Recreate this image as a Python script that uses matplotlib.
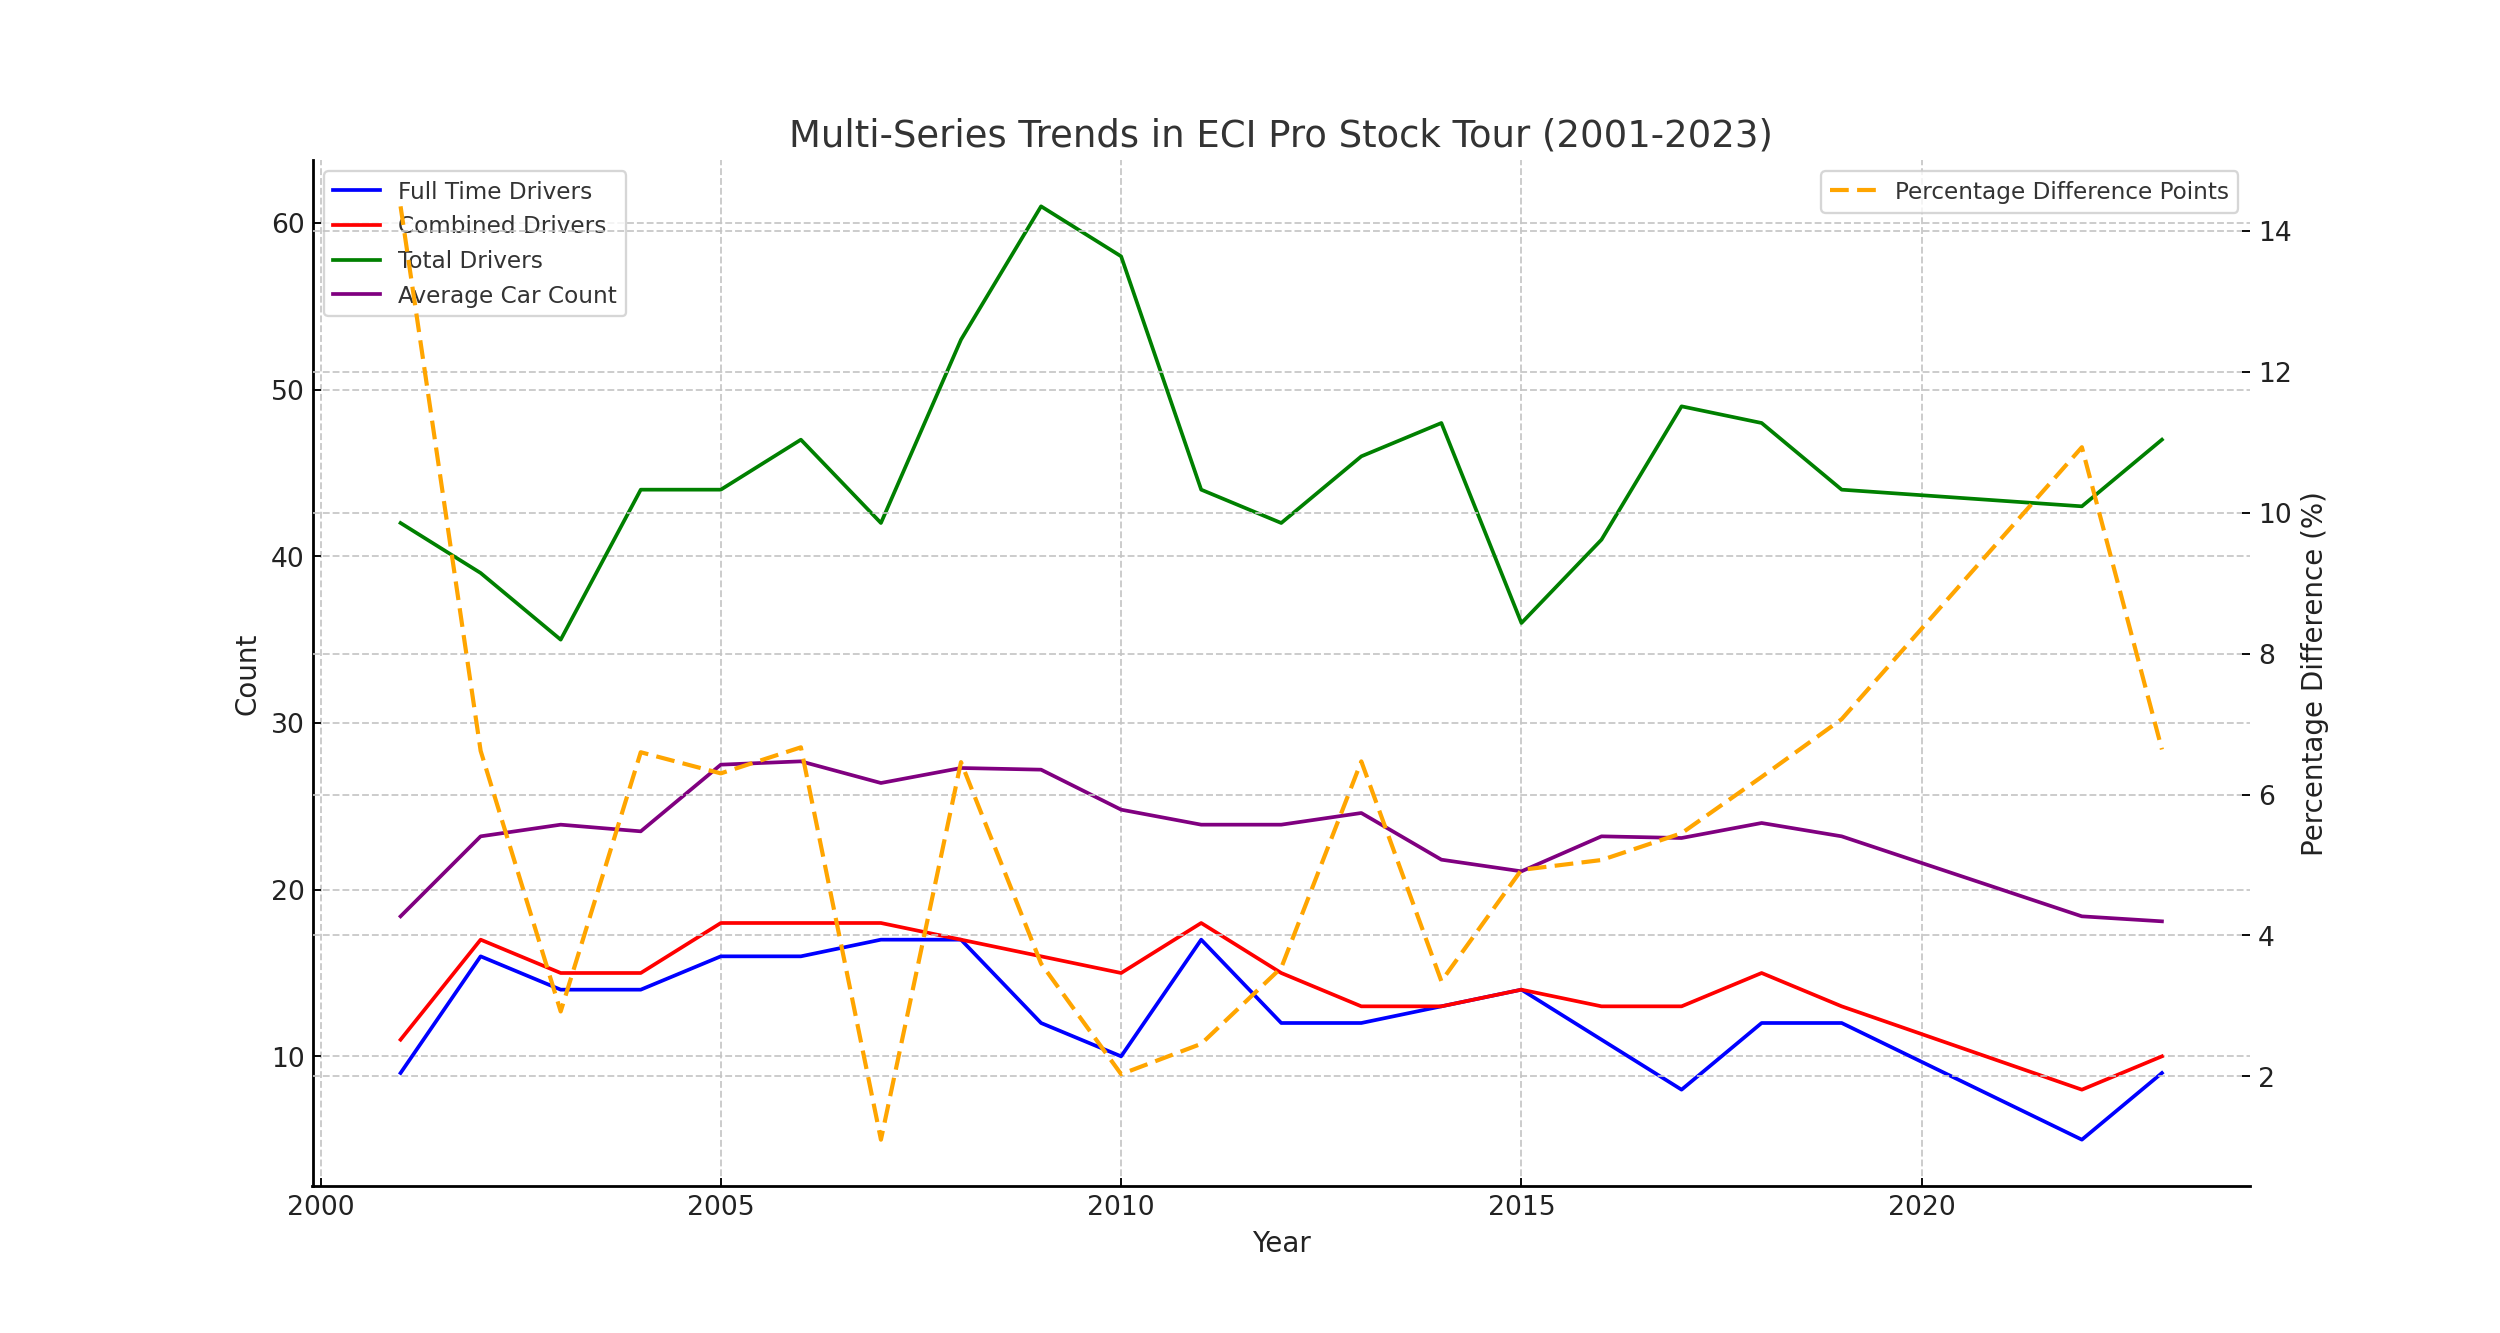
import matplotlib.pyplot as plt

# Data (2020 and 2021 have no entries)
years = [2001, 2002, 2003, 2004, 2005, 2006, 2007, 2008, 2009, 2010, 2011,
         2012, 2013, 2014, 2015, 2016, 2017, 2018, 2019, 2022, 2023]
full_time = [9, 16, 14, 14, 16, 16, 17, 17, 12, 10, 17, 12, 12, 13, 14, 11, 8, 12, 12, 5, 9]
combined = [11, 17, 15, 15, 18, 18, 18, 17, 16, 15, 18, 15, 13, 13, 14, 13, 13, 15, 13, 8, 10]
total = [42, 39, 35, 44, 44, 47, 42, 53, 61, 58, 44, 42, 46, 48, 36, 41, 49, 48, 44, 43, 47]
avg_car = [18.4, 23.2, 23.9, 23.5, 27.5, 27.7, 26.4, 27.3, 27.2, 24.8, 23.9,
           23.9, 24.6, 21.8, 21.1, 23.2, 23.1, 24.0, 23.2, 18.4, 18.1]
pct_diff = [14.35, 6.62, 2.92, 6.6, 6.3, 6.67, 1.10, 6.46, 3.6, 2.03, 2.46,
            3.54, 6.47, 3.35, 4.93, 5.07, 5.45, 6.25, 7.07, 10.93, 6.64]

plt.rcParams['font.family'] = ['DejaVu Sans']
grid_kw = dict(linestyle='--', color='#c4c4c4', linewidth=0.8, alpha=0.9)

fig, ax1 = plt.subplots(figsize=(15, 8))

# Counts on the left axis
ax1.plot(years, full_time, color='blue', linewidth=1.6, label='Full Time Drivers')
ax1.plot(years, combined, color='red', linewidth=1.6, label='Combined Drivers')
ax1.plot(years, total, color='green', linewidth=1.6, label='Total Drivers')
ax1.plot(years, avg_car, color='purple', linewidth=1.6, label='Average Car Count')
ax1.set_xlabel('Year', fontsize=12, color='#222222')
ax1.set_ylabel('Count', fontsize=12, color='#222222')
ax1.set_title('Multi-Series Trends in ECI Pro Stock Tour (2001-2023)',
              fontsize=16, color='#333333')
ax1.grid(True, **grid_kw)
ax1.tick_params(direction='in', labelsize=11.5, labelcolor='#222222')
for side in ['top', 'right']:
    ax1.spines[side].set_visible(False)
for side in ['left', 'bottom']:
    ax1.spines[side].set_linewidth(1.2)
ax1.legend(loc='upper left', fontsize=10, labelcolor='#333333')

# Percentage difference on the right axis
ax2 = ax1.twinx()
ax2.plot(years, pct_diff, color='orange', linestyle='--', linewidth=1.8,
         dashes=(4.5, 2), label='Percentage Difference Points')
ax2.set_ylabel('Percentage Difference (%)', fontsize=12, color='#222222')
ax2.grid(True, axis='y', **grid_kw)
ax2.tick_params(direction='in', labelsize=11.5, labelcolor='#222222')
for side in ['top', 'right', 'left', 'bottom']:
    ax2.spines[side].set_visible(False)
ax2.legend(loc='upper right', fontsize=10, labelcolor='#333333')

fig.savefig('out.png', dpi=2500 / 15)
